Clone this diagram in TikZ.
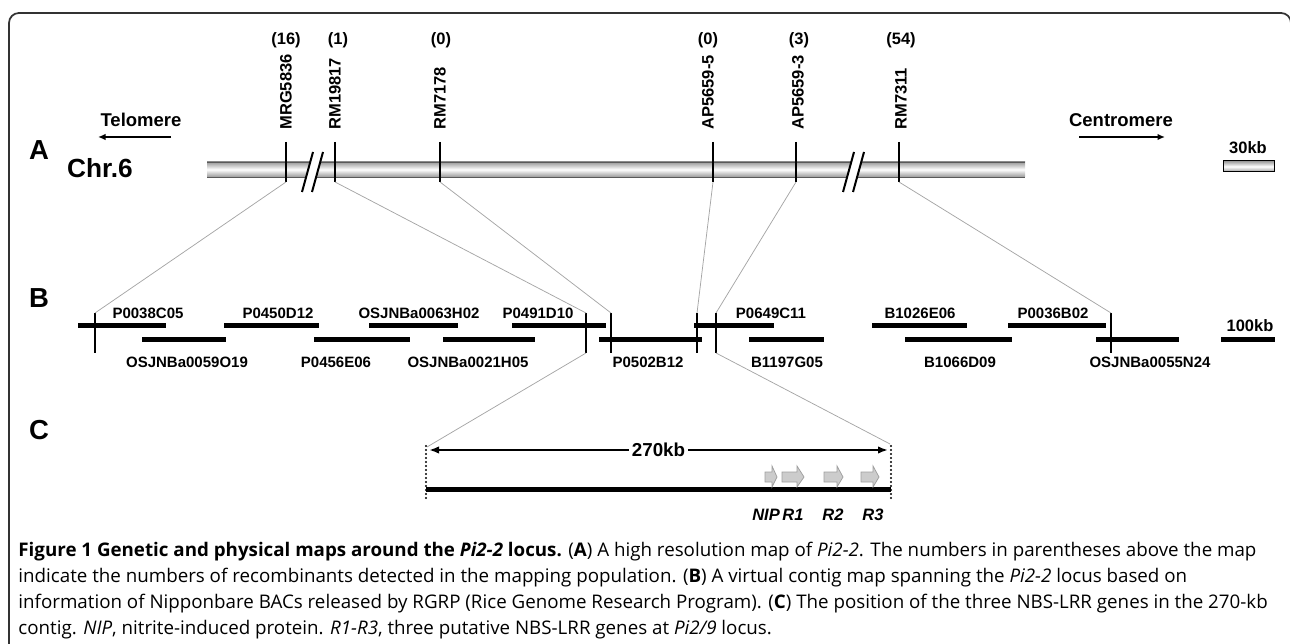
\documentclass[tikz,border=0pt]{standalone}
\usepackage{fontspec}
\setmainfont{Liberation Sans}
\newfontfamily\capfont{Open Sans}
\usetikzlibrary{arrows.meta}

\tikzset{
  mk/.style={font=\fontsize{6.6}{7}\selectfont\bfseries,inner sep=0pt},
  bac/.style={font=\fontsize{6}{7}\selectfont\bfseries,inner sep=0pt},
  panel/.style={font=\fontsize{11}{12}\selectfont\bfseries,inner sep=0pt},
  tick/.style={line width=.8pt},
  clone/.style={line width=2pt},
  con/.style={gray!70,line width=.3pt},
  dots/.style={line width=.9pt,line cap=round,dash pattern=on 0pt off 1.6pt},
  tube/.style={top color=gray!80,bottom color=gray!80,middle color=white},
  gene/.style={fill=gray!40,draw=gray!75,line width=.3pt}
}

\begin{document}
\begin{tikzpicture}[x=0.4pt,y=-0.4pt,line width=.35pt]
\useasboundingbox (0,0) rectangle (1290,644);
\draw[black!80,line width=.7pt,rounded corners=4pt] (9,660)--(9,13)--(1291,13)--(1291,660);

% A
\node[panel] (pa) at (39,150) {A};
\node[font=\fontsize{10.5}{11}\selectfont\bfseries,inner sep=0pt] (chr) at (100,168) {Chr.6};
\node[font=\fontsize{7.4}{8}\selectfont\bfseries,inner sep=0pt] (tel) at (141,120) {Telomere};
\node[font=\fontsize{7.4}{8}\selectfont\bfseries,inner sep=0pt] (cen) at (1121,120) {Centromere};
\coordinate (tel1) at (171,137);
\coordinate (tel2) at (98,137);
\coordinate (cen1) at (1079,137);
\coordinate (cen2) at (1165,137);
\draw[line width=.8pt,-{Latex[length=3pt,width=2.6pt]}] (tel1)--(tel2);
\draw[line width=.8pt,-{Latex[length=3pt,width=2.6pt]}] (cen1)--(cen2);

\shade[tube] (207,162) rectangle (1025,177);
\draw[gray!70!black,line width=.3pt] (207,162)--(1025,162) (207,177)--(1025,177);
\fill[white] (302,192)--(313,152)--(323,152)--(312,192)--cycle;
\draw[tick] (302,192)--(313,152) (312,192)--(323,152);
\fill[white] (843,192)--(854,152)--(864,152)--(853,192)--cycle;
\draw[tick] (843,192)--(854,152) (853,192)--(864,152);

\node[mk,anchor=west,rotate=90] (m1) at (286,130) {MRG5836};
\node[mk,anchor=west,rotate=90] (m2) at (335,130) {RM19817};
\node[mk,anchor=west,rotate=90] (m3) at (440,130) {RM7178};
\node[mk,anchor=west,rotate=90] (m4) at (708,130) {AP5659-5};
\node[mk,anchor=west,rotate=90] (m5) at (798,130) {AP5659-3};
\node[mk,anchor=west,rotate=90] (m6) at (901,130) {RM7311};
\node[mk] (n1) at (286,40) {(16)};
\node[mk] (n2) at (338,40) {(1)};
\node[mk] (n3) at (441,40) {(0)};
\node[mk] (n4) at (708,40) {(0)};
\node[mk] (n5) at (799,40) {(3)};
\node[mk] (n6) at (901,40) {(54)};
\draw[tick] (286,142)--(286,182) coordinate (a1);
\draw[tick] (335,142)--(335,182) coordinate (a2);
\draw[tick] (440,142)--(440,182) coordinate (a3);
\draw[tick] (713,142)--(713,182) coordinate (a4);
\draw[tick] (796,142)--(796,182) coordinate (a5);
\draw[tick] (899,142)--(899,182) coordinate (a6);

\node[mk] (kb30) at (1248,148) {30kb};
\shade[tube] (1223,161) rectangle (1274,172);
\draw[line width=.4pt] (1223,161) rectangle (1274,172);

% B
\node[panel] (pb) at (39,298) {B};
\draw[clone] (78,326)--(166,326);
\draw[clone] (224,326)--(319,326);
\draw[clone] (369,326)--(458,326);
\draw[clone] (512,326)--(606,326);
\draw[clone] (694,326)--(774,326);
\draw[clone] (872,326)--(967,326);
\draw[clone] (1008,326)--(1106,326);
\draw[clone] (142,340)--(226,340);
\draw[clone] (314,340)--(410,340);
\draw[clone] (443,340)--(535,340);
\draw[clone] (599,340)--(702,340);
\draw[clone] (749,340)--(824,340);
\draw[clone] (905,340)--(1012,340);
\draw[clone] (1096,340)--(1179,340);
\draw[clone] (1221,340)--(1275,340);

\node[bac] (c01) at (148,313) {P0038C05};
\node[bac] (c02) at (278,313) {P0450D12};
\node[bac] (c03) at (419,313) {OSJNBa0063H02};
\node[bac] (c04) at (538,313) {P0491D10};
\node[bac] (c05) at (771,313) {P0649C11};
\node[bac] (c06) at (920,313) {B1026E06};
\node[bac] (c07) at (1053,313) {P0036B02};
\node[bac] (c08) at (187,362) {OSJNBa0059O19};
\node[bac] (c09) at (336,362) {P0456E06};
\node[bac] (c10) at (468,362) {OSJNBa0021H05};
\node[bac] (c11) at (648,362) {P0502B12};
\node[bac] (c12) at (787,362) {B1197G05};
\node[bac] (c13) at (960,362) {B1066D09};
\node[bac] (c14) at (1150,362) {OSJNBa0055N24};
\node[mk] (kb100) at (1250,326) {100kb};

\draw[tick] (95,313) coordinate (b1)--(95,353);
\draw[tick] (586,313) coordinate (b2)--(586,353) coordinate (b2d);
\draw[tick] (611,313) coordinate (b3)--(611,353);
\draw[tick] (697,313) coordinate (b4)--(697,353);
\draw[tick] (716,313) coordinate (b5)--(716,353) coordinate (b5d);
\draw[tick] (1111,313) coordinate (b6)--(1111,353);

\draw[con] (a1)--(b1);
\draw[con] (a2)--(b2);
\draw[con] (a3)--(b3);
\draw[con] (a4)--(b4);
\draw[con] (a5)--(b5);
\draw[con] (a6)--(b6);

% C
\node[panel] (pc) at (39,430) {C};
\coordinate (cl) at (427,447);
\coordinate (cr) at (890,444);
\draw[con] (b2d)--(cl);
\draw[con] (b5d)--(cr);
\draw[dots] (426,446)--(426,502);
\draw[dots] (891,446)--(891,502);
\draw[line width=.8pt,{Latex[length=4pt,width=3pt]}-{Latex[length=4pt,width=3pt]}] (429,450)--(888,450)
  node[midway,fill=white,inner sep=1pt,font=\fontsize{7.5}{8}\selectfont\bfseries] (kb270) {270kb};
\draw[line width=2pt] (426,489)--(891,489);
\draw[gene] (765,472)--(772,472)--(772,466)--(777,477)--(772,487)--(772,482)--(765,482)--cycle;
\draw[gene] (782,472)--(797,472)--(797,466)--(804,477)--(797,487)--(797,482)--(782,482)--cycle;
\draw[gene] (824,472)--(837,472)--(837,466)--(843,477)--(837,487)--(837,482)--(824,482)--cycle;
\draw[gene] (861,472)--(873,472)--(873,466)--(879,477)--(873,487)--(873,482)--(861,482)--cycle;
\node[mk,font=\fontsize{6.6}{7}\selectfont\bfseries\itshape] (gnip) at (766,515) {NIP};
\node[mk,font=\fontsize{6.6}{7}\selectfont\bfseries\itshape] (gr1) at (793,515) {R1};
\node[mk,font=\fontsize{6.6}{7}\selectfont\bfseries\itshape] (gr2) at (833,515) {R2};
\node[mk,font=\fontsize{6.6}{7}\selectfont\bfseries\itshape] (gr3) at (873,515) {R3};

% caption
\node[anchor=north west,align=left,inner sep=0pt,font=\capfont\fontsize{7.5}{10.4}\selectfont] (cap) at (18,542)
{\textbf{Figure 1 Genetic and physical maps around the \textit{Pi2-2} locus.} (\textbf{A}) A high resolution map of \textit{Pi2-2}. The numbers in parentheses above the map\\
indicate the numbers of recombinants detected in the mapping population. (\textbf{B}) A virtual contig map spanning the \textit{Pi2-2} locus based on\\
information of Nipponbare BACs released by RGRP (Rice Genome Research Program). (\textbf{C}) The position of the three NBS-LRR genes in the 270-kb\\
contig. \textit{NIP}, nitrite-induced protein. \textit{R1-R3}, three putative NBS-LRR genes at \textit{Pi2/9} locus.};
\end{tikzpicture}
\end{document}
